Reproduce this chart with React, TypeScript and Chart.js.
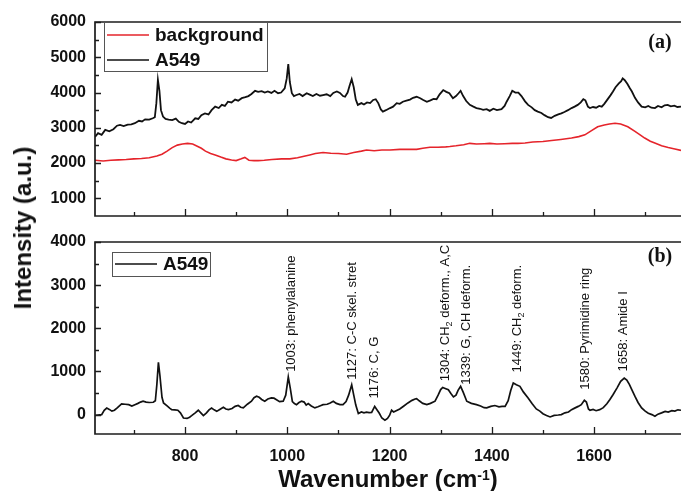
import React, { useEffect, useRef } from 'react';
import { Chart, registerables } from 'chart.js';

Chart.register(...registerables);

// ---------- DATA ----------
const xRange = [624, 1770];
const xMajorTicks = [800, 1000, 1200, 1400, 1600];
const xMinorTicks = [700, 900, 1100, 1300, 1500, 1700];

const topYRange = [500, 6000];
const topYMajorTicks = [1000, 2000, 3000, 4000, 5000, 6000];
const topYMinorTicks = [1500, 2500, 3500, 4500, 5500];

const botYRange = [-450, 4000];
const botYMajorTicks = [0, 1000, 2000, 3000, 4000];
const botYMinorTicks = [500, 1500, 2500, 3500];

// panel (a): raw A549 spectrum [wavenumber, intensity]
const a549Raw: [number, number][] = [
  [624, 2740], [630, 2850], [637, 2800], [644, 2940], [652, 2900], [660, 2960], [667, 3060], [673, 3080],
  [680, 3050], [688, 3090], [695, 3100], [702, 3130], [710, 3200], [716, 3180], [722, 3240], [730, 3230],
  [737, 3270], [741, 3300], [744, 3700], [747, 4360], [750, 4050], [753, 3500], [757, 3320], [762, 3250],
  [768, 3230], [775, 3220], [782, 3260], [788, 3170], [794, 3130], [800, 3110], [806, 3180], [812, 3150],
  [820, 3270], [826, 3250], [832, 3360], [839, 3410], [846, 3380], [852, 3500], [859, 3600], [866, 3560],
  [872, 3650], [878, 3620], [884, 3740], [891, 3720], [898, 3800], [904, 3770], [911, 3840], [918, 3870],
  [924, 3900], [930, 3960], [937, 4050], [943, 4020], [950, 4040], [956, 4000], [962, 4030], [969, 3990],
  [975, 4050], [982, 3980], [988, 4000], [995, 4120], [999, 4400], [1002, 4810], [1005, 4300], [1009, 3980],
  [1013, 3900], [1018, 3930], [1024, 3960], [1030, 3900], [1038, 3980], [1044, 3940], [1050, 3900], [1057, 3960],
  [1064, 3910], [1070, 3930], [1077, 3950], [1084, 3900], [1090, 3990], [1097, 4030], [1103, 3990], [1109, 3900],
  [1113, 3880], [1118, 4000], [1122, 4200], [1126, 4380], [1130, 4150], [1134, 3800], [1138, 3650], [1145, 3700],
  [1150, 3660], [1156, 3720], [1162, 3700], [1168, 3790], [1173, 3810], [1178, 3700], [1183, 3520], [1187, 3460],
  [1193, 3500], [1201, 3560], [1207, 3600], [1214, 3700], [1220, 3680], [1226, 3740], [1233, 3770], [1240, 3800],
  [1246, 3850], [1253, 3880], [1260, 3840], [1266, 3790], [1273, 3740], [1280, 3780], [1286, 3820], [1292, 3810],
  [1298, 3950], [1305, 4070], [1311, 4020], [1317, 3980], [1324, 3840], [1330, 3900], [1335, 3980], [1339, 4050],
  [1344, 3900], [1350, 3760], [1357, 3650], [1364, 3600], [1370, 3560], [1377, 3540], [1383, 3510], [1390, 3530],
  [1396, 3480], [1403, 3540], [1410, 3500], [1419, 3530], [1425, 3620], [1429, 3740], [1435, 3900], [1440, 4050],
  [1446, 4000], [1452, 4000], [1458, 3900], [1465, 3750], [1471, 3650], [1478, 3580], [1484, 3500], [1490, 3460],
  [1497, 3420], [1503, 3360], [1510, 3300], [1516, 3280], [1523, 3340], [1530, 3380], [1536, 3410], [1542, 3450],
  [1549, 3500], [1556, 3560], [1562, 3600], [1568, 3650], [1574, 3720], [1579, 3810], [1583, 3780], [1588, 3600],
  [1592, 3560], [1598, 3590], [1604, 3570], [1610, 3620], [1615, 3600], [1620, 3680], [1626, 3800], [1632, 3920],
  [1637, 4030], [1642, 4150], [1648, 4250], [1653, 4320], [1656, 4400], [1660, 4350], [1665, 4250], [1670, 4120],
  [1674, 4030], [1680, 3850], [1686, 3720], [1693, 3600], [1700, 3580], [1706, 3620], [1712, 3570], [1719, 3560],
  [1725, 3620], [1732, 3580], [1738, 3640], [1744, 3650], [1750, 3610], [1757, 3630], [1763, 3590], [1770, 3600],
];

// panel (a): background spectrum
const backgroundRaw: [number, number][] = [
  [624, 2080], [640, 2060], [655, 2080], [670, 2090], [685, 2100], [700, 2120], [715, 2130], [730, 2150],
  [745, 2200], [755, 2250], [765, 2340], [775, 2440], [785, 2510], [795, 2540], [805, 2560], [815, 2540],
  [825, 2470], [832, 2420], [840, 2340], [850, 2270], [859, 2230], [870, 2170], [880, 2120], [891, 2090],
  [900, 2070], [910, 2120], [917, 2160], [925, 2080], [935, 2070], [943, 2070], [955, 2080], [970, 2100],
  [989, 2120], [1005, 2120], [1020, 2150], [1035, 2200], [1044, 2230], [1055, 2270], [1070, 2300], [1085, 2280],
  [1100, 2270], [1116, 2250], [1130, 2300], [1145, 2340], [1155, 2370], [1170, 2350], [1185, 2370], [1201, 2370],
  [1220, 2390], [1240, 2390], [1253, 2390], [1265, 2420], [1279, 2450], [1295, 2450], [1310, 2460], [1318, 2470],
  [1330, 2490], [1345, 2520], [1357, 2560], [1370, 2540], [1385, 2550], [1396, 2560], [1410, 2540], [1425, 2550],
  [1440, 2560], [1451, 2560], [1465, 2570], [1480, 2600], [1500, 2610], [1517, 2640], [1535, 2670], [1556, 2710],
  [1570, 2750], [1582, 2800], [1595, 2920], [1607, 3030], [1620, 3080], [1630, 3110], [1641, 3130], [1652, 3110],
  [1666, 3030], [1680, 2900], [1690, 2800], [1699, 2710], [1710, 2620], [1720, 2560], [1732, 2490], [1745, 2440],
  [1758, 2400], [1770, 2360],
];

// panel (b): background-subtracted A549 spectrum
const a549Corrected: [number, number][] = [
  [624, -20], [630, -10], [637, 0], [642, 100], [647, 150], [652, 120], [657, 80], [662, 100],
  [668, 160], [676, 250], [683, 240], [690, 230], [696, 200], [702, 230], [708, 260], [713, 290],
  [718, 310], [724, 290], [730, 280], [738, 285], [742, 320], [745, 700], [748, 1210], [751, 900],
  [755, 400], [758, 270], [765, 200], [770, 150], [774, 115], [780, 110], [786, 100], [791, 40],
  [797, -80], [804, -90], [809, -60], [813, -25], [820, 40], [826, 100], [831, 40], [836, -25],
  [842, 40], [847, 110], [852, 150], [857, 110], [862, 75], [868, 120], [875, 170], [880, 130],
  [885, 115], [892, 140], [898, 190], [904, 210], [909, 170], [914, 155], [922, 240], [930, 310],
  [935, 390], [940, 425], [945, 400], [950, 350], [956, 310], [962, 360], [969, 385], [974, 380],
  [979, 345], [985, 300], [992, 310], [997, 450], [1002, 870], [1006, 600], [1010, 300], [1014, 255],
  [1018, 230], [1023, 280], [1028, 310], [1033, 290], [1037, 220], [1041, 255], [1047, 200], [1054, 155],
  [1060, 180], [1066, 210], [1070, 230], [1078, 240], [1084, 270], [1090, 310], [1096, 260], [1103, 230],
  [1109, 230], [1115, 300], [1120, 450], [1126, 690], [1130, 450], [1134, 220], [1139, 25], [1145, 60],
  [1150, 40], [1155, 55], [1160, 45], [1165, 50], [1168, 120], [1171, 190], [1175, 120], [1180, 30],
  [1185, -80], [1191, -130], [1196, -90], [1200, -20], [1204, 100], [1208, 60], [1213, 90], [1220, 130],
  [1228, 200], [1236, 270], [1244, 330], [1250, 360], [1253, 370], [1258, 320], [1265, 260], [1273, 230],
  [1280, 260], [1289, 310], [1295, 450], [1300, 580], [1304, 630], [1310, 600], [1315, 575], [1320, 490],
  [1325, 410], [1330, 450], [1334, 560], [1339, 655], [1344, 520], [1351, 310], [1360, 260], [1370, 230],
  [1378, 200], [1385, 160], [1390, 155], [1398, 190], [1406, 210], [1414, 180], [1420, 190], [1426, 190],
  [1432, 320], [1437, 560], [1442, 730], [1448, 690], [1455, 655], [1462, 520], [1471, 385], [1479, 250],
  [1487, 130], [1494, 80], [1500, 20], [1507, -20], [1514, -55], [1522, -20], [1530, -10], [1536, 0],
  [1543, 40], [1550, 60], [1556, 115], [1562, 150], [1569, 190], [1575, 230], [1581, 330], [1585, 290],
  [1589, 130], [1592, 100], [1598, 120], [1604, 90], [1611, 115], [1618, 160], [1625, 250], [1631, 350],
  [1637, 460], [1645, 620], [1652, 770], [1659, 845], [1664, 800], [1669, 700], [1674, 575], [1680, 420],
  [1686, 280], [1693, 155], [1700, 80], [1706, 30], [1713, 0], [1719, -40], [1725, 10], [1732, 40],
  [1739, 75], [1745, 60], [1752, 90], [1758, 80], [1764, 110], [1770, 100],
];

// peak assignments: label anchor wavenumber, anchor intensity, text (with _{} subscripts)
const peakLabelWavenumbers = [1008, 1127, 1171, 1310, 1351, 1450, 1583, 1658];
const peakLabelAnchors = [990, 810, 370, 770, 690, 975, 575, 1000];
const peakLabelTexts = [
  '1003: phenylalanine',
  '1127: C-C skel. stret',
  '1176: C, G',
  '1304: CH_{2} deform., A,C',
  '1339: G, CH deform.',
  '1449: CH_{2} deform.',
  '1580: Pyrimidine ring',
  '1658: Amide I',
];

const topLegendLabels = ['background', 'A549'];
const bottomLegendLabels = ['A549'];
const panelLetters = ['(a)', '(b)'];

const RED = '#e5242b';
const BLACK = '#111111';
const SANS = "'Liberation Sans', Arial, Helvetica, sans-serif";
const SERIF = "'Liberation Serif', 'Times New Roman', serif";

// ---------- helpers ----------
const toXY = (arr: [number, number][]) => arr.map(([x, y]) => ({ x, y }));

function framePlugin(yMajor: number[], yMinor: number[]) {
  return {
    id: 'frameTicks',
    afterDatasetsDraw(chart: any) {
      const { ctx, chartArea: a, scales } = chart;
      const xs = scales.x;
      const ys = scales.y;
      ctx.save();
      ctx.strokeStyle = '#1c1c1c';
      ctx.lineWidth = 1.7;
      ctx.beginPath();
      ctx.moveTo(a.right + 2, a.top);
      ctx.lineTo(a.left, a.top);
      ctx.lineTo(a.left, a.bottom);
      ctx.lineTo(a.right + 2, a.bottom);
      ctx.stroke();
      ctx.lineWidth = 1.3;
      ctx.beginPath();
      xMajorTicks.forEach((v) => {
        const px = Math.round(xs.getPixelForValue(v)) + 0.5;
        ctx.moveTo(px, a.bottom);
        ctx.lineTo(px, a.bottom - 7);
      });
      xMinorTicks.forEach((v) => {
        const px = Math.round(xs.getPixelForValue(v)) + 0.5;
        ctx.moveTo(px, a.bottom);
        ctx.lineTo(px, a.bottom - 4);
      });
      yMajor.forEach((v) => {
        const py = Math.round(ys.getPixelForValue(v)) + 0.5;
        ctx.moveTo(a.left, py);
        ctx.lineTo(a.left + 6, py);
      });
      yMinor.forEach((v) => {
        const py = Math.round(ys.getPixelForValue(v)) + 0.5;
        ctx.moveTo(a.left, py);
        ctx.lineTo(a.left + 4, py);
      });
      ctx.stroke();
      ctx.restore();
    },
  };
}

function legendPlugin(
  labels: string[],
  colors: string[],
  box: { dx: number; dy: number; w: number; h: number },
  rowY: number[],
  panelLetter: string,
  letterDy: number
) {
  return {
    id: 'customLegend',
    afterDraw(chart: any) {
      const { ctx, chartArea: a } = chart;
      ctx.save();
      const bx = a.left + box.dx;
      const by = a.top + box.dy;
      ctx.fillStyle = '#ffffff';
      ctx.fillRect(bx, by, box.w, box.h);
      ctx.strokeStyle = '#555555';
      ctx.lineWidth = 1;
      ctx.strokeRect(bx + 0.5, by + 0.5, box.w, box.h);
      labels.forEach((lab, i) => {
        const y = a.top + rowY[i];
        ctx.strokeStyle = colors[i];
        ctx.lineWidth = 1.5;
        ctx.beginPath();
        ctx.moveTo(bx + 3, y);
        ctx.lineTo(bx + 45, y);
        ctx.stroke();
        ctx.fillStyle = '#111';
        ctx.font = `bold 19px ${SANS}`;
        ctx.textBaseline = 'middle';
        ctx.textAlign = 'left';
        ctx.fillText(lab, bx + 51, y + 1);
      });
      ctx.font = `bold 20px ${SERIF}`;
      ctx.fillStyle = '#111';
      ctx.textAlign = 'center';
      ctx.textBaseline = 'middle';
      ctx.fillText(panelLetter, 660, a.top + letterDy);
      ctx.restore();
    },
  };
}

const peakLabelPlugin = {
  id: 'peakLabels',
  afterDraw(chart: any) {
    const { ctx, scales } = chart;
    ctx.save();
    ctx.fillStyle = '#111';
    ctx.textBaseline = 'middle';
    ctx.textAlign = 'left';
    peakLabelTexts.forEach((txt, i) => {
      const px = scales.x.getPixelForValue(peakLabelWavenumbers[i]);
      const py = scales.y.getPixelForValue(peakLabelAnchors[i]);
      ctx.save();
      ctx.translate(px, py);
      ctx.rotate(-Math.PI / 2);
      const parts = txt.split(/(_\{[^}]*\})/).filter((p) => p.length > 0);
      let cx = 0;
      parts.forEach((p) => {
        if (p.startsWith('_{')) {
          const s = p.slice(2, -1);
          ctx.font = `9px ${SANS}`;
          ctx.fillText(s, cx, 4);
          cx += ctx.measureText(s).width;
        } else {
          ctx.font = `13px ${SANS}`;
          ctx.fillText(p, cx, 0);
          cx += ctx.measureText(p).width;
        }
      });
      ctx.restore();
    });
    ctx.restore();
  },
};

function makeXScale(showLabels: boolean, height: number) {
  return {
    type: 'linear' as const,
    min: xRange[0],
    max: xRange[1],
    grid: { display: false, drawTicks: false },
    border: { display: false },
    ticks: {
      display: showLabels,
      autoSkip: false,
      maxRotation: 0,
      padding: 13,
      color: '#111',
      font: { family: SANS, size: 16, weight: 'bold' as const },
      callback: (v: any) => String(v),
    },
    afterBuildTicks: (s: any) => {
      s.ticks = xMajorTicks.map((v) => ({ value: v }));
    },
    afterFit: (s: any) => {
      s.height = height;
    },
  };
}

function makeYScale(range: number[], major: number[]) {
  return {
    type: 'linear' as const,
    min: range[0],
    max: range[1],
    grid: { display: false, drawTicks: false },
    border: { display: false },
    ticks: {
      autoSkip: false,
      padding: 9,
      color: '#111',
      font: { family: SANS, size: 16, weight: 'bold' as const },
      callback: (v: any) => String(v),
    },
    afterBuildTicks: (s: any) => {
      s.ticks = major.map((v) => ({ value: v }));
    },
    afterFit: (s: any) => {
      s.width = 95;
    },
  };
}

export default function App() {
  const topRef = useRef<HTMLCanvasElement>(null);
  const botRef = useRef<HTMLCanvasElement>(null);

  useEffect(() => {
    const top = new Chart(topRef.current!, {
      type: 'line',
      data: {
        datasets: [
          {
            label: topLegendLabels[0],
            data: toXY(backgroundRaw),
            borderColor: RED,
            borderWidth: 1.6,
            pointRadius: 0,
          },
          {
            label: topLegendLabels[1],
            data: toXY(a549Raw),
            borderColor: BLACK,
            borderWidth: 1.8,
            pointRadius: 0,
          },
        ],
      },
      options: {
        responsive: false,
        animation: false,
        layout: { padding: { top: 22, left: 0, right: 0, bottom: 0 } },
        plugins: { legend: { display: false }, tooltip: { enabled: false } },
        scales: {
          x: makeXScale(false, 24),
          y: makeYScale(topYRange, topYMajorTicks),
        },
      },
      plugins: [
        framePlugin(topYMajorTicks, topYMinorTicks),
        legendPlugin(topLegendLabels, [RED, BLACK], { dx: 9, dy: 0, w: 163, h: 49 }, [13, 38], panelLetters[0], 21),
      ],
    } as any);

    const bot = new Chart(botRef.current!, {
      type: 'line',
      data: {
        datasets: [
          {
            label: bottomLegendLabels[0],
            data: toXY(a549Corrected),
            borderColor: BLACK,
            borderWidth: 1.7,
            pointRadius: 0,
          },
        ],
      },
      options: {
        responsive: false,
        animation: false,
        layout: { padding: { top: 20, left: 0, right: 0, bottom: 0 } },
        plugins: { legend: { display: false }, tooltip: { enabled: false } },
        scales: {
          x: makeXScale(true, 57),
          y: makeYScale(botYRange, botYMajorTicks),
        },
      },
      plugins: [
        framePlugin(botYMajorTicks, botYMinorTicks),
        peakLabelPlugin,
        legendPlugin(bottomLegendLabels, [BLACK], { dx: 17, dy: 10, w: 98, h: 24 }, [22], panelLetters[1], 15),
      ],
    } as any);

    return () => {
      top.destroy();
      bot.destroy();
    };
  }, []);

  return (
    <div style={{ position: 'absolute', left: 0, top: 0, width: 681, height: 491, background: '#fff', overflow: 'hidden' }}>
      <canvas ref={topRef} width={681} height={240} style={{ position: 'absolute', left: 0, top: 0, width: 681, height: 240 }} />
      <canvas ref={botRef} width={681} height={269} style={{ position: 'absolute', left: 0, top: 222, width: 681, height: 269 }} />
      <div
        style={{
          position: 'absolute',
          left: 23,
          top: 228,
          transform: 'translate(-50%, -50%) rotate(-90deg)',
          whiteSpace: 'nowrap',
          font: `bold 24px ${SANS}`,
          lineHeight: '24px',
          color: '#111',
        }}
      >
        Intensity (a.u.)
      </div>
      <div
        style={{
          position: 'absolute',
          left: 388,
          top: 467,
          transform: 'translateX(-50%)',
          whiteSpace: 'nowrap',
          font: `bold 24px ${SANS}`,
          lineHeight: '24px',
          color: '#111',
        }}
      >
        Wavenumber (cm<sup style={{ fontSize: 14, verticalAlign: 'top', position: 'relative', top: -4 }}>-1</sup>)
      </div>
    </div>
  );
}
